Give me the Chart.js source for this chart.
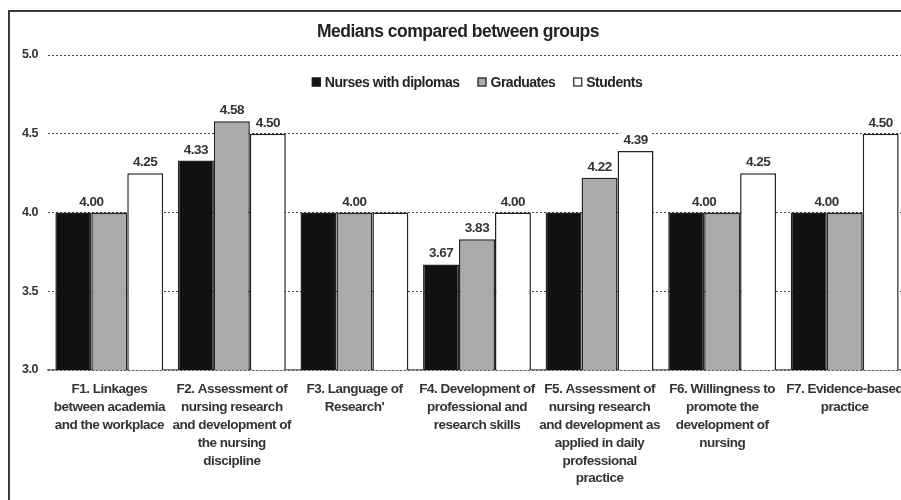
<!DOCTYPE html>
<html>
<head>
  <title>Medians compared between groups</title>
  <script src="https://cdn.jsdelivr.net/npm/chart.js"></script>
  <style>
    html, body {
      margin: 0;
      padding: 0;
      background: #fff;
      overflow: hidden;
      width: 901px;
      height: 500px;
    }
    #frame {
      position: absolute;
      left: 8px;
      top: 10px;
      width: 920px;
      height: 520px;
      border: 2px solid #3a3a3a;
    }
  </style>
</head>
<body>
  <div id="frame"><canvas id="medianChart"></canvas></div>

  <script>
    const categories = [
      ['F1. Linkages', 'between academia', 'and the workplace'],
      ['F2. Assessment of', 'nursing research', 'and development of', 'the nursing', 'discipline'],
      ['F3. Language of', "Research'"],
      ['F4. Development of', 'professional and', 'research skills'],
      ['F5. Assessment of', 'nursing research', 'and development as', 'applied in daily', 'professional', 'practice'],
      ['F6. Willingness to', 'promote the', 'development of', 'nursing'],
      ['F7. Evidence-based', 'practice']
    ];
    const nurses = [4.00, 4.33, 4.00, 3.67, 4.00, 4.00, 4.00];
    const graduates = [4.00, 4.58, 4.00, 3.83, 4.22, 4.00, 4.00];
    const students = [4.25, 4.50, 4.00, 4.00, 4.39, 4.25, 4.50];
    const seriesNames = ['Nurses with diplomas', 'Graduates', 'Students'];
    const yTicks = [3.0, 3.5, 4.0, 4.5, 5.0];
    // labels the original leaves out: [category, series]
    const hiddenLabels = [[4, 0]];

    const FONT = "'Liberation Sans', Arial, sans-serif";
    const series = [nurses, graduates, students];

    // the printed chart uses a condensed face, so squeeze the letters a bit
    const tightText = {
      id: 'tightText',
      beforeLayout(chart) { chart.ctx.letterSpacing = '-0.5px'; },
      beforeDraw(chart) { chart.ctx.letterSpacing = '-0.5px'; }
    };

    // value labels above the bars, equal neighbours share one label
    const valueLabels = {
      id: 'valueLabels',
      afterDatasetsDraw(chart) {
        const ctx = chart.ctx;
        ctx.save();
        ctx.font = 'bold 13.5px ' + FONT;
        ctx.textAlign = 'center';
        ctx.textBaseline = 'alphabetic';
        categories.forEach((c, i) => {
          let d = 0;
          while (d < series.length) {
            let e = d;
            while (e + 1 < series.length && series[e + 1][i] === series[d][i]) e++;
            const skip = hiddenLabels.some(h => h[0] === i && h[1] === d);
            if (!skip) {
              const first = chart.getDatasetMeta(d).data[i];
              const last = chart.getDatasetMeta(e).data[i];
              const x = (first.x + last.x) / 2;
              const y = first.y - 7;
              const text = series[d][i].toFixed(2);
              const w = ctx.measureText(text).width;
              ctx.fillStyle = '#fff';
              ctx.fillRect(x - w / 2 - 3, y - 12, w + 6, 15);
              ctx.fillStyle = '#333';
              ctx.fillText(text, x, y);
            }
            d = e + 1;
          }
        });
        ctx.restore();
      }
    };

    // legend row drawn inside the plot, under the 5.0 line
    const innerLegend = {
      id: 'innerLegend',
      afterDatasetsDraw(chart) {
        const ctx = chart.ctx;
        const area = chart.chartArea;
        const box = 9, gap = 4, spacing = 18;
        ctx.save();
        ctx.font = 'bold 14px ' + FONT;
        ctx.textBaseline = 'middle';
        ctx.textAlign = 'left';
        const items = chart.data.datasets.map(ds => ({ ds, w: box + gap + ctx.measureText(ds.label).width }));
        const total = items.reduce((s, it) => s + it.w, 0) + spacing * (items.length - 1);
        let x = (area.left + area.right) / 2 - total / 2;
        const y = area.top + 27;
        items.forEach(it => {
          ctx.fillStyle = it.ds.backgroundColor;
          ctx.fillRect(x, y - box / 2, box, box);
          ctx.strokeStyle = '#222';
          ctx.lineWidth = 1.2;
          ctx.strokeRect(x + 0.5, y - box / 2 + 0.5, box - 1, box - 1);
          ctx.fillStyle = '#222';
          ctx.fillText(it.ds.label, x + box + gap, y + 1);
          x += it.w + spacing;
        });
        ctx.restore();
      }
    };

    const ctx = document.getElementById('medianChart').getContext('2d');
    new Chart(ctx, {
      type: 'bar',
      data: {
        labels: categories,
        datasets: [
          { label: seriesNames[0], data: nurses, backgroundColor: '#111', borderColor: '#222', borderWidth: 1.5 },
          { label: seriesNames[1], data: graduates, backgroundColor: '#aaa', borderColor: '#222', borderWidth: 1.5 },
          { label: seriesNames[2], data: students, backgroundColor: '#fff', borderColor: '#222', borderWidth: 1.5 }
        ]
      },
      options: {
        responsive: true,
        maintainAspectRatio: false,
        animation: false,
        barPercentage: 1,
        categoryPercentage: 0.88,
        layout: { padding: { left: 0, right: 24, top: 0, bottom: 42 } },
        scales: {
          x: {
            grid: { display: false, drawTicks: false },
            border: { display: true, color: '#777', width: 1.5 },
            ticks: {
              color: '#333',
              padding: 10,
              maxRotation: 0,
              autoSkip: false,
              font: { family: FONT, size: 13.5, weight: 'bold', lineHeight: 1.33 }
            },
            afterFit(scale) { scale.height = 120; }
          },
          y: {
            min: 3,
            max: 5,
            afterBuildTicks(scale) { scale.ticks = yTicks.map(v => ({ value: v })); },
            grid: { color: '#444', lineWidth: 1, drawTicks: false },
            border: { display: false, dash: [2, 2] },
            ticks: {
              color: '#333',
              padding: 10,
              font: { family: FONT, size: 12.5, weight: 'bold' },
              callback: v => v.toFixed(1)
            },
            afterFit(scale) { scale.width = 38; }
          }
        },
        plugins: {
          title: {
            display: true,
            text: 'Medians compared between groups',
            color: '#222',
            font: { family: FONT, size: 17.5, weight: 'bold' },
            padding: { top: 10, bottom: 12 }
          },
          legend: { display: false },
          tooltip: { enabled: false }
        }
      },
      plugins: [tightText, valueLabels, innerLegend]
    });
  </script>
</body>
</html>
